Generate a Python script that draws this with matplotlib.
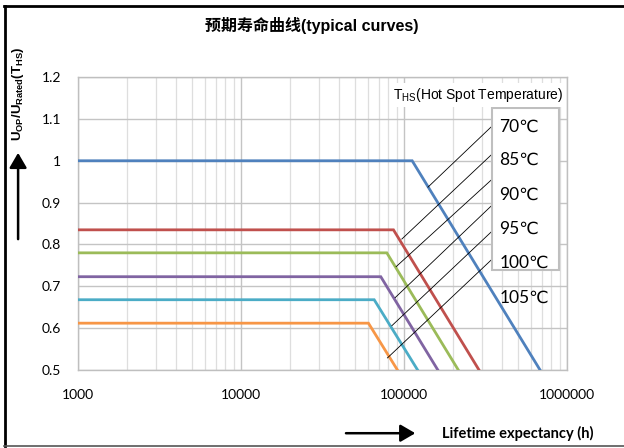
import matplotlib as mpl
import matplotlib.pyplot as plt
from matplotlib.lines import Line2D
from matplotlib.patches import Rectangle, FancyArrowPatch

mpl.rcParams['mathtext.fontset'] = 'custom'
mpl.rcParams['mathtext.rm'] = 'Liberation Sans'
mpl.rcParams['mathtext.bf'] = 'Liberation Sans:bold'

# curve data
temps = ['70℃', '85℃', '90℃', '95℃', '100℃', '105℃']
u_ratio = [1.0, 0.835, 0.78, 0.723, 0.668, 0.612]
knee_h = [112000, 86000, 78300, 71900, 65500, 60400]
end_h = [682000, 288000, 215000, 161000, 121000, 91000]
start_h = 1000
end_u = 0.5
colors = ['#4f81bd', '#c0504d', '#9bbb59', '#8064a2', '#4bacc6', '#f79646']

# leader lines (label side -> curve side)
lead_top_u = [1.081, 1.014, 0.954, 0.892, 0.830, 0.763]
lead_top_h = 342000
lead_end_h = [140000, 96800, 89300, 88100, 84100, 79000]
lead_end_u = [0.937, 0.813, 0.747, 0.673, 0.606, 0.529]
label_u = [1.081, 1.002, 0.918, 0.837, 0.756, 0.673]
label_h = 383000

xticks = [1000, 10000, 100000, 1000000]
yticks = [0.5, 0.6, 0.7, 0.8, 0.9, 1, 1.1, 1.2]
ytick_labels = ['0.5', '0.6', '0.7', '0.8', '0.9', '1', '1.1', '1.2']

fig = plt.figure(figsize=(6.24, 4.48), dpi=100)
ax = fig.add_axes([0.125, 0.174, 0.784, 0.654])

for i in range(len(temps)):
    ax.plot([start_h, knee_h[i], end_h[i]], [u_ratio[i], u_ratio[i], end_u],
            color=colors[i], lw=2.0, solid_joinstyle='miter', zorder=3)

for i in range(len(temps)):
    ax.plot([lead_end_h[i], lead_top_h], [lead_end_u[i], lead_top_u[i]],
            color='black', lw=0.6, zorder=4)

ax.set_xscale('log')
ax.set_xlim(1000, 1000000)
ax.set_ylim(0.5, 1.2)
ax.set_xticks(xticks, labels=[str(t) for t in xticks], fontsize=10, family='Lato')
ax.set_yticks(yticks, labels=ytick_labels, fontsize=10, family='Lato')
ax.tick_params(which='both', length=0)
ax.tick_params(axis='x', pad=14)
ax.tick_params(axis='y', pad=12)
ax.grid(True, which='major', color='#c4c4c4', lw=1.0, zorder=0)
ax.grid(True, which='minor', axis='x', color='#dedede', lw=0.9, zorder=0)
ax.set_axisbelow(True)
for s in ax.spines.values():
    s.set_color('#bfbfbf')
    s.set_linewidth(1.0)

# legend box with temperatures
ax.add_patch(Rectangle((0.847, 0.341), 0.137, 0.553, transform=ax.transAxes,
                       facecolor='white', edgecolor='#bfbfbf', lw=1.5, zorder=5))
for i in range(len(temps)):
    ax.text(label_h, label_u[i], temps[i], fontsize=12.5, va='center', ha='left',
            family=['Lato', 'DejaVu Sans'], zorder=6)

ax.text(0.992, 0.939, r'T$_{\mathrm{HS}}$(Hot Spot Temperature)', transform=ax.transAxes,
        ha='right', va='center', fontsize=10, family='Liberation Sans', zorder=6,
        bbox=dict(facecolor='white', edgecolor='none', pad=2))

fig.text(0.5, 0.944, '预期寿命曲线(typical curves)', ha='center', va='center',
         fontsize=11.5, fontweight='bold', family=['Liberation Sans', 'Noto Sans CJK SC'])

fig.text(0.029, 0.79,
         r'$\mathbf{U}_{\mathbf{OP}}\mathbf{/U}_{\mathbf{Rated}}\mathbf{(T}_{\mathbf{HS}}\mathbf{)}$',
         rotation=90, ha='center', va='center', fontsize=9.5)
fig.text(0.708, 0.033, 'Lifetime expectancy (h)', ha='left', va='center',
         fontsize=10.5, fontweight='bold', family='Lato')

fig.add_artist(FancyArrowPatch((0.029, 0.46), (0.029, 0.665),
               transform=fig.transFigure, arrowstyle='-|>,head_length=6,head_width=3.5',
               color='black', lw=1.8, mutation_scale=1.5))
fig.add_artist(FancyArrowPatch((0.55, 0.033), (0.67, 0.033),
               transform=fig.transFigure, arrowstyle='-|>,head_length=6,head_width=3.5',
               color='black', lw=1.8, mutation_scale=1.5))

# outer frame
fig.add_artist(Line2D([0.007, 1.0], [0.987, 0.987], transform=fig.transFigure, color='black', lw=2))
fig.add_artist(Line2D([0.008, 0.008], [0.005, 0.987], transform=fig.transFigure, color='black', lw=2))
fig.add_artist(Line2D([0.007, 1.0], [0.005, 0.005], transform=fig.transFigure, color='#555555', lw=1.2))

plt.savefig('out.png', dpi=100)
